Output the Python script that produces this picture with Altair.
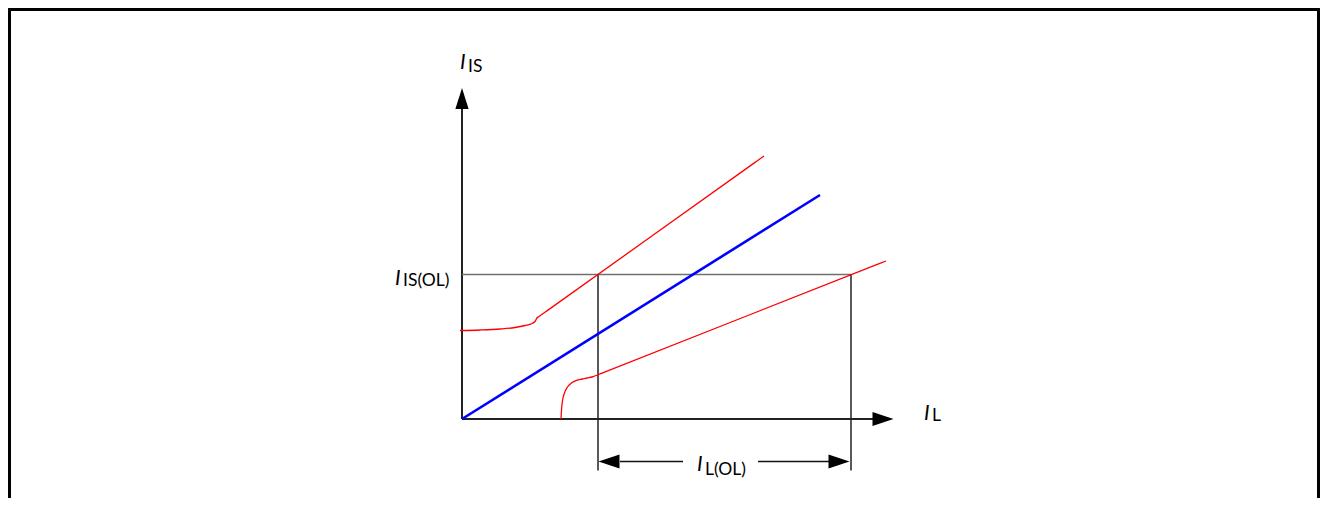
import altair as alt
import pandas as pd

# Data space: x = pixels right of the origin, y = pixels above the origin
W, H = 1312, 490
X_DOMAIN = [-454, -454 + W]
Y_DOMAIN = [411 - H, 411]

# Curves
blue_x = [0, 358]
blue_y = [0, 224]
upper_red_x = [-2, 18, 38, 53, 63, 70, 73, 75, 77, 87, 292, 302]
upper_red_y = [88.5, 89, 90, 91.5, 93.5, 95.5, 97.5, 101, 102.5, 109.6, 255.9, 263]
lower_red_x = [99, 99.5, 100.5, 102.5, 105.5, 109.5, 114.5, 120, 125, 130, 140, 414, 424]
lower_red_y = [0, 9, 18, 26, 32, 36, 38.7, 40, 41, 42, 45.9, 154.1, 158]

# Straight segments: axes, guide lines, dimension line, frame
BOTTOM = Y_DOMAIN[0]
RIGHT = X_DOMAIN[1] - 1.5
seg_x1 = [0, 0, 0, 136, 389, 158, 296, -452.5, -454, RIGHT]
seg_x2 = [0, 413, 389, 136, 389, 221, 367, -452.5, X_DOMAIN[1], RIGHT]
seg_y1 = [0, 0, 144.5, 144.5, 144.5, -42.5, -42.5, BOTTOM, 409.5, BOTTOM]
seg_y2 = [312, 0, 144.5, -51.5, -51.5, -42.5, -42.5, 411, 409.5, 411]
seg_color = ["#222222", "#222222", "#707070", "#222222", "#222222",
             "#111111", "#111111", "#000000", "#000000", "#000000"]
seg_width = [2, 2, 1.6, 1.5, 1.5, 1.5, 1.5, 3, 3, 3]

# Arrow heads
arrow_x = [0, 421, 147, 377]
arrow_y = [320.5, 0, -42.5, -42.5]
arrow_shape = ["M0,-1L-0.63,1L0.63,1Z", "M1,0L-1,-0.66L-1,0.66Z",
               "M-1,0L1,-0.66L1,0.66Z", "M1,0L-1,-0.66L-1,0.66Z"]

# Labels: italic "I" and its subscript
main_x = [-2, -67, 462, 235]
main_y = [350, 134.5, -1, -52]
sub_text = ["IS", "IS(OL)", "L", "L(OL)"]
sub_x = [6, -59, 470, 243]
sub_y = [347, 133, -1.7, -55.5]

xs = alt.Scale(domain=X_DOMAIN, range=[0, W], nice=False, zero=False)
ys = alt.Scale(domain=Y_DOMAIN, range=[H, 0], nice=False, zero=False)

rows = []
for name, xv, yv, col, w in [("blue", blue_x, blue_y, "#0000ff", 2.6),
                             ("upper", upper_red_x, upper_red_y, "#ff0000", 1.3),
                             ("lower", lower_red_x, lower_red_y, "#ff0000", 1.3)]:
    for i, (a, b) in enumerate(zip(xv, yv)):
        rows.append({"series": name, "i": i, "x": a, "y": b, "c": col, "w": w})
curves = pd.DataFrame(rows)

segs = pd.DataFrame({"x1": seg_x1, "x2": seg_x2, "y1": seg_y1, "y2": seg_y2,
                     "c": seg_color, "w": seg_width})
arrows = pd.DataFrame({"x": arrow_x, "y": arrow_y, "s": arrow_shape})
mains = pd.DataFrame({"x": main_x, "y": main_y, "t": ["I"] * 4})
subs = pd.DataFrame({"x": sub_x, "y": sub_y, "t": sub_text})

seg_layer = alt.Chart(segs).mark_rule().encode(
    x=alt.X("x1:Q", scale=xs, axis=None),
    x2="x2:Q",
    y=alt.Y("y1:Q", scale=ys, axis=None),
    y2="y2:Q",
    color=alt.Color("c:N", scale=None),
    strokeWidth=alt.StrokeWidth("w:Q", scale=None),
)

curve_layer = alt.Chart(curves).mark_line(interpolate="monotone").encode(
    x=alt.X("x:Q", scale=xs, axis=None),
    y=alt.Y("y:Q", scale=ys, axis=None),
    detail="series:N",
    order="i:Q",
    color=alt.Color("c:N", scale=None),
    strokeWidth=alt.StrokeWidth("w:Q", scale=None),
)

arrow_layer = alt.Chart(arrows).mark_point(filled=True, size=441, color="#000000",
                                           opacity=1, strokeWidth=0).encode(
    x=alt.X("x:Q", scale=xs, axis=None),
    y=alt.Y("y:Q", scale=ys, axis=None),
    shape=alt.Shape("s:N", scale=None),
)

main_layer = alt.Chart(mains).mark_text(font="Lato", fontStyle="italic", fontSize=21,
                                        align="left", baseline="alphabetic",
                                        color="#000000").encode(
    x=alt.X("x:Q", scale=xs, axis=None),
    y=alt.Y("y:Q", scale=ys, axis=None),
    text="t:N",
)

sub_layer = alt.Chart(subs).mark_text(font="Lato", fontSize=17.5,
                                      align="left", baseline="alphabetic",
                                      color="#000000").encode(
    x=alt.X("x:Q", scale=xs, axis=None),
    y=alt.Y("y:Q", scale=ys, axis=None),
    text="t:N",
)

chart = alt.layer(seg_layer, curve_layer, arrow_layer, main_layer, sub_layer).properties(
    width=W, height=H, padding=0, autosize=alt.AutoSizeParams(type="none"),
    background="white",
).configure_view(stroke=None)

chart.save("out.html", embed_options={"renderer": "svg", "actions": False})
